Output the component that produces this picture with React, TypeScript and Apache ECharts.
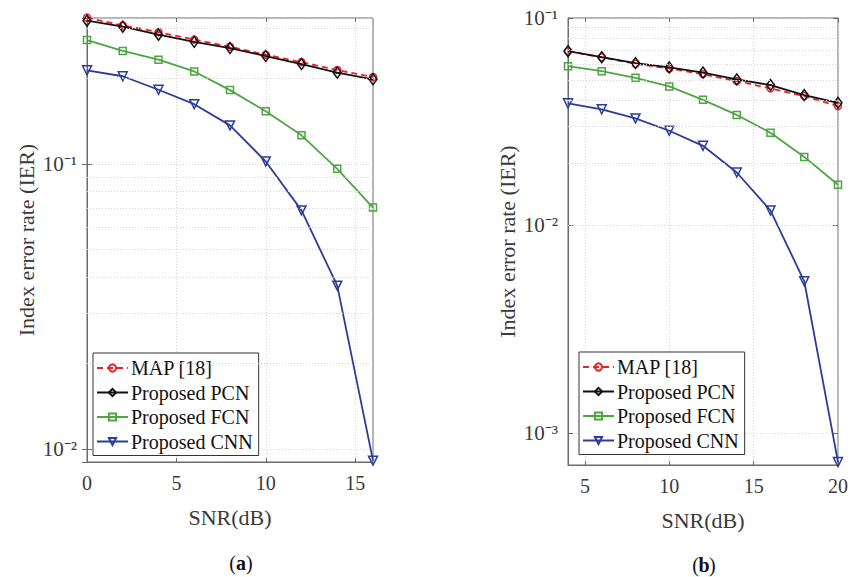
import React, { useEffect, useRef } from "react";
import * as echarts from "echarts";

const FONT = "Liberation Serif";

// (a) SNR 0..16 dB
const snrA = [0, 2, 4, 6, 8, 10, 12, 14, 16];
const mapA = [0.326, 0.306, 0.29, 0.273, 0.2577, 0.2416, 0.2275, 0.2135, 0.2017];
const pcnA = [0.318, 0.303, 0.284, 0.268, 0.255, 0.239, 0.224, 0.209, 0.198];
const fcnA = [0.272, 0.249, 0.232, 0.211, 0.1815, 0.153, 0.126, 0.0961, 0.0703];
const cnnA = [0.213, 0.203, 0.182, 0.162, 0.1365, 0.102, 0.0687, 0.0374, 0.0091];

// (b) SNR 4..20 dB
const snrB = [4, 6, 8, 10, 12, 14, 16, 18, 20];
const mapB = [0.0692, 0.0646, 0.0601, 0.0571, 0.0536, 0.0496, 0.0458, 0.042, 0.0376];
const pcnB = [0.0692, 0.0647, 0.0606, 0.0578, 0.0546, 0.0506, 0.0475, 0.0425, 0.039];
const fcnB = [0.0586, 0.0554, 0.0515, 0.0468, 0.0403, 0.0341, 0.028, 0.0214, 0.0157];
const cnnB = [0.0388, 0.0363, 0.0328, 0.0286, 0.0242, 0.018, 0.0118, 0.00538, 0.000723];

const xTicksA = [0, 5, 10, 15];
const xTicksB = [5, 10, 15, 20];
const minorA = [0.02, 0.03, 0.04, 0.05, 0.06, 0.07, 0.08, 0.09, 0.2, 0.3];
const minorB = [0.0008, 0.0009, 0.002, 0.003, 0.004, 0.005, 0.006, 0.007, 0.008, 0.009,
  0.02, 0.03, 0.04, 0.05, 0.06, 0.07, 0.08, 0.09];

const names = ["MAP [18]", "Proposed PCN", "Proposed FCN", "Proposed CNN"];
const colors = ["#e8232a", "#111111", "#4fa543", "#2b3d98"];
const symbols = ["circle", "diamond", "rect", "triangle"];
const symbolSizes: any[] = [7, [8, 11], 7, 9];
const symbolRotates = [0, 0, 0, 180];

const zip = (xs: number[], ys: number[]) => xs.map((x, i) => [x, ys[i]]);

const AXIS_COLOR = "#6b6b6b";
const LABEL_COLOR = "#3a3a3a";

const SUP: Record<string, string> = { "-": "\u207B", "0": "\u2070", "1": "\u00B9", "2": "\u00B2", "3": "\u00B3", "4": "\u2074", "5": "\u2075" };

function powLabel(v: number) {
  const l = Math.log10(v);
  const r = Math.round(l);
  if (Math.abs(l - r) > 1e-6) return "";
  return "10" + String(r).split("").map((c) => SUP[c] || c).join("");
}

export default function App() {
  const ref = useRef<HTMLDivElement>(null);
  useEffect(() => {
    if (!ref.current) return;
    const chart = echarts.init(ref.current, undefined, { renderer: "svg" });

    const grids = [
      { left: 87, top: 18, width: 286, height: 444, show: true, borderColor: AXIS_COLOR, borderWidth: 1, backgroundColor: "#fff" },
      { left: 568, top: 18, width: 271, height: 447, show: true, borderColor: AXIS_COLOR, borderWidth: 1, backgroundColor: "#fff" },
    ];

    const xCfg = [
      { min: 0, max: 16, ticks: xTicksA },
      { min: 4, max: 20, ticks: xTicksB },
    ];
    const yCfg = [
      { min: 0.009, max: 0.325 },
      { min: 0.0007, max: 0.1 },
    ];

    const xAxis: any[] = [];
    const yAxis: any[] = [];
    [0, 1].forEach((g) => {
      xAxis.push({
        type: "value",
        gridIndex: g,
        min: xCfg[g].min,
        max: xCfg[g].max,
        name: "SNR(dB)",
        nameLocation: "middle",
        nameGap: 44,
        nameTextStyle: { fontFamily: FONT, fontSize: 22, color: LABEL_COLOR },
        axisLine: { show: true, onZero: false, lineStyle: { color: AXIS_COLOR, width: 1 } },
        axisTick: { show: true, inside: true, length: 4, lineStyle: { color: AXIS_COLOR }, customValues: xCfg[g].ticks },
        axisLabel: { fontFamily: FONT, fontSize: 20, color: LABEL_COLOR, margin: 11, customValues: xCfg[g].ticks },
        splitLine: { show: true, lineStyle: { color: "#d4d4d4", type: [1, 2], width: 1 } },
      });
      xAxis.push({
        type: "value",
        gridIndex: g,
        position: "top",
        min: xCfg[g].min,
        max: xCfg[g].max,
        axisLine: { show: false },
        axisTick: { show: true, inside: true, length: 4, lineStyle: { color: AXIS_COLOR }, customValues: xCfg[g].ticks },
        axisLabel: { show: false },
        splitLine: { show: false },
      });
      yAxis.push({
        type: "log",
        logBase: 10,
        gridIndex: g,
        min: yCfg[g].min,
        max: yCfg[g].max,
        name: "Index error rate (IER)",
        nameLocation: "middle",
        nameGap: 50,
        nameTextStyle: { fontFamily: FONT, fontSize: 22, color: LABEL_COLOR },
        axisLine: { show: true, onZero: false, lineStyle: { color: AXIS_COLOR, width: 1 } },
        axisTick: { show: true, inside: true, length: 5, lineStyle: { color: AXIS_COLOR } },
        axisLabel: {
          show: true,
          fontFamily: FONT,
          fontSize: 21,
          color: LABEL_COLOR,
          margin: 10,
          formatter: powLabel,
        },
        splitLine: { show: true, lineStyle: { color: "#d4d4d4", type: [1, 2], width: 1 } },
      });
      yAxis.push({
        type: "log",
        logBase: 10,
        gridIndex: g,
        position: "right",
        min: yCfg[g].min,
        max: yCfg[g].max,
        axisLine: { show: false },
        axisTick: { show: true, inside: true, length: 5, lineStyle: { color: AXIS_COLOR } },
        axisLabel: { show: false },
        splitLine: { show: false },
      });
    });

    const dataSets = [
      [mapA, pcnA, fcnA, cnnA],
      [mapB, pcnB, fcnB, cnnB],
    ];
    const snrs = [snrA, snrB];
    const minors = [minorA, minorB];

    const series: any[] = [];
    [0, 1].forEach((g) => {
      series.push({
        type: "line",
        name: "_minor" + g,
        xAxisIndex: g * 2,
        yAxisIndex: g * 2,
        data: [],
        silent: true,
        z: 1,
        markLine: {
          silent: true,
          symbol: "none",
          label: { show: false },
          animation: false,
          lineStyle: { color: "#d4d4d4", type: [1, 2], width: 1 },
          data: minors[g].map((v) => ({ yAxis: v })),
        },
      });
      names.forEach((n, i) => {
        series.push({
          type: "line",
          name: n,
          xAxisIndex: g * 2,
          yAxisIndex: g * 2,
          data: zip(snrs[g], dataSets[g][i]),
          color: colors[i],
          symbol: symbols[i],
          symbolSize: symbolSizes[i],
          symbolRotate: symbolRotates[i],
          showAllSymbol: true,
          clip: false,
          z: 3 + (i === 1 ? 1 : 0),
          lineStyle: { color: colors[i], width: 1.8, type: i === 0 ? [6, 4] : "solid" },
          itemStyle: { color: "transparent", borderColor: colors[i], borderWidth: 1.5 },
        });
      });
    });

    const legendBase = {
      orient: "vertical",
      data: names,
      itemWidth: 31,
      itemHeight: 9,
      itemGap: 2.5,
      padding: [4, 6, 3, 3],
      backgroundColor: "#fff",
      borderColor: "#333",
      borderWidth: 1,
      borderRadius: 0,
      selectedMode: false,
      textStyle: { fontFamily: FONT, fontSize: 20, color: "#111", lineHeight: 22, padding: [0, 0, 0, -2] },
    };

    const caption = (cx: number, y: number, letter: string) => ({
      type: "group",
      children: [
        { type: "text", x: cx - 5, y, style: { text: "(", font: `20px ${FONT}`, fill: "#111", align: "right", verticalAlign: "middle" } },
        { type: "text", x: cx, y, style: { text: letter, font: `bold 20px ${FONT}`, fill: "#111", align: "center", verticalAlign: "middle" } },
        { type: "text", x: cx + 5, y, style: { text: ")", font: `20px ${FONT}`, fill: "#111", align: "left", verticalAlign: "middle" } },
      ],
    });

    chart.setOption({
      animation: false,
      backgroundColor: "#fff",
      textStyle: { fontFamily: FONT },
      grid: grids,
      xAxis,
      yAxis,
      series,
      legend: [
        { ...legendBase, left: 93, top: 353 },
        { ...legendBase, left: 579, top: 352 },
      ],
      graphic: [caption(241, 563, "a"), caption(704, 565, "b")],
    });
    return () => chart.dispose();
  }, []);
  return <div ref={ref} style={{ width: 851, height: 577, position: "absolute", left: 0, top: 0 }} />;
}
